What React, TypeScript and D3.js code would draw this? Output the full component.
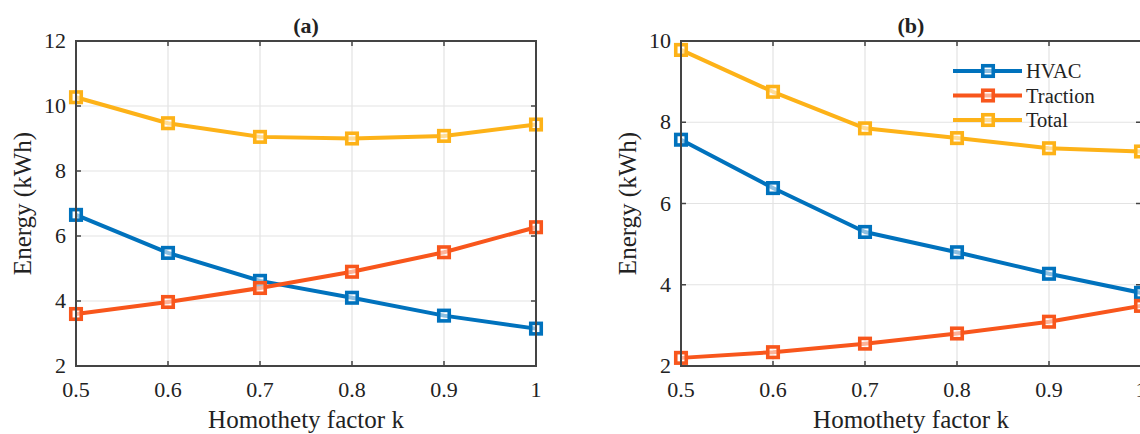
import React from "react";
import * as d3 from "d3";

const kValues = [0.5, 0.6, 0.7, 0.8, 0.9, 1.0];
const xTicks = [0.5, 0.6, 0.7, 0.8, 0.9, 1];

// Panel (a)
const hvacA = [6.65, 5.48, 4.62, 4.1, 3.55, 3.15];
const tractionA = [3.6, 3.97, 4.4, 4.9, 5.5, 6.27];
const totalA = [10.27, 9.47, 9.05, 9.0, 9.08, 9.43];
const yTicksA = [2, 4, 6, 8, 10, 12];

// Panel (b)
const hvacB = [7.57, 6.38, 5.3, 4.8, 4.27, 3.8];
const tractionB = [2.2, 2.34, 2.55, 2.8, 3.09, 3.48];
const totalB = [9.78, 8.75, 7.85, 7.61, 7.36, 7.28];
const yTicksB = [2, 4, 6, 8, 10];

const seriesNames = ["HVAC", "Traction", "Total"];
const colors = ["#0072BD", "#F8561C", "#FDB218"];

const FONT = "'Liberation Serif', 'Times New Roman', serif";
const TEXT = "#222";

type PanelProps = {
  left: number;
  right: number;
  top: number;
  bottom: number;
  yDomain: [number, number];
  yTicks: number[];
  series: number[][];
  title: string;
  legend?: boolean;
};

function Marker({ x, y, color }: { x: number; y: number; color: string }) {
  const s = 10.5;
  return (
    <rect x={x - s / 2} y={y - s / 2} width={s} height={s} fill="#fff" fillOpacity={0.55} stroke={color} strokeWidth={3.6} />
  );
}

function Panel({ left, right, top, bottom, yDomain, yTicks, series, title, legend }: PanelProps) {
  const x = d3.scaleLinear().domain([0.5, 1]).range([left, right]);
  const y = d3.scaleLinear().domain(yDomain).range([bottom, top]);
  const line = d3
    .line<number>()
    .x((_, i) => x(kValues[i]))
    .y((d) => y(d));
  const cx = (left + right) / 2;
  const cy = (top + bottom) / 2;
  return (
    <g>
      {xTicks.map((t) => (
        <line key={"gx" + t} x1={x(t)} x2={x(t)} y1={top} y2={bottom} stroke="#e3e3e3" strokeWidth={1.2} />
      ))}
      {yTicks.map((t) => (
        <line key={"gy" + t} x1={left} x2={right} y1={y(t)} y2={y(t)} stroke="#e3e3e3" strokeWidth={1.2} />
      ))}
      {xTicks.map((t) => (
        <g key={"tx" + t}>
          <line x1={x(t)} x2={x(t)} y1={bottom} y2={bottom - 5} stroke="#444" strokeWidth={1.5} />
          <line x1={x(t)} x2={x(t)} y1={top} y2={top + 5} stroke="#444" strokeWidth={1.5} />
          <text x={x(t)} y={397} textAnchor="middle" fontFamily={FONT} fontSize={22} fill={TEXT}>
            {d3.format("~g")(t)}
          </text>
        </g>
      ))}
      {yTicks.map((t) => (
        <g key={"ty" + t}>
          <line x1={left} x2={left + 5} y1={y(t)} y2={y(t)} stroke="#444" strokeWidth={1.5} />
          <line x1={right} x2={right - 5} y1={y(t)} y2={y(t)} stroke="#444" strokeWidth={1.5} />
          <text x={left - 10} y={y(t) + 7} textAnchor="end" fontFamily={FONT} fontSize={22} fill={TEXT}>
            {t}
          </text>
        </g>
      ))}
      {series.map((s, si) => (
        <g key={"s" + si}>
          <path d={line(s) || ""} fill="none" stroke={colors[si]} strokeWidth={4} strokeLinejoin="round" />
          {s.map((v, i) => (
            <Marker key={i} x={x(kValues[i])} y={y(v)} color={colors[si]} />
          ))}
        </g>
      ))}
      <rect x={left} y={top} width={right - left} height={bottom - top} fill="none" stroke="#444" strokeWidth={2} />
      <text x={cx} y={33} textAnchor="middle" fontFamily={FONT} fontSize={22} fontWeight="bold" fill={TEXT}>
        {title}
      </text>
      <text x={cx} y={428} textAnchor="middle" fontFamily={FONT} fontSize={25} fill={TEXT}>
        Homothety factor k
      </text>
      <text
        transform={`translate(${left - 45},${cy}) rotate(-90)`}
        textAnchor="middle"
        fontFamily={FONT}
        fontSize={25}
        fill={TEXT}
      >
        Energy (kWh)
      </text>
      {legend && (
        <g>
          {seriesNames.map((n, i) => {
            const ly = 71 + i * 24.5;
            return (
              <g key={n}>
                <line x1={953} x2={1022} y1={ly} y2={ly} stroke={colors[i]} strokeWidth={4} />
                <Marker x={988} y={ly} color={colors[i]} />
                <text x={1026} y={ly + 7} fontFamily={FONT} fontSize={20.5} fill={TEXT}>
                  {n}
                </text>
              </g>
            );
          })}
        </g>
      )}
    </g>
  );
}

export default function App() {
  return (
    <svg
      width={1140}
      height={434}
      style={{ position: "absolute", left: 0, top: 0, background: "#fff" }}
    >
      <rect x={0} y={0} width={1140} height={434} fill="#fff" />
      <Panel
        left={76}
        right={536}
        top={41}
        bottom={366}
        yDomain={[2, 12]}
        yTicks={yTicksA}
        series={[hvacA, tractionA, totalA]}
        title="(a)"
      />
      <Panel
        left={681}
        right={1141}
        top={41}
        bottom={366}
        yDomain={[2, 10]}
        yTicks={yTicksB}
        series={[hvacB, tractionB, totalB]}
        title="(b)"
        legend
      />
    </svg>
  );
}
